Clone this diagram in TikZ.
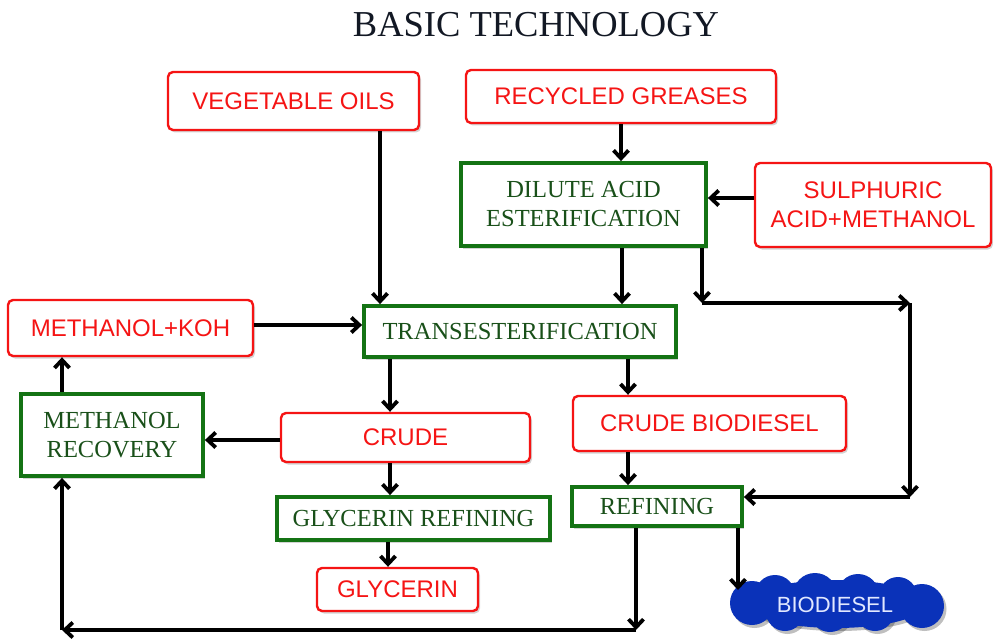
\documentclass[tikz,border=0pt]{standalone}
\usepackage{fontspec}
\setmainfont{Liberation Serif}
\newfontfamily\sansf{Liberation Sans}
\usetikzlibrary{arrows.meta,shadows}
\definecolor{redc}{RGB}{245,20,20}
\definecolor{greenb}{RGB}{20,115,20}
\definecolor{greent}{RGB}{25,80,25}
\definecolor{titlec}{RGB}{18,24,36}
\definecolor{cloudc}{RGB}{10,50,185}
\definecolor{cloudt}{RGB}{225,232,255}
\tikzset{
  redbox/.style={draw=redc, line width=2.4pt, rounded corners=5pt, fill=white, text=redc,
    font=\sansf\fontsize{24}{29}\selectfont, align=center, inner sep=0pt,
    drop shadow={shadow xshift=2pt, shadow yshift=-2.5pt, opacity=0.35}},
  greenbox/.style={draw=greenb, line width=3.8pt, fill=white, text=greent,
    font=\fontsize{24.5}{29}\selectfont, align=center, inner sep=0pt,
    drop shadow={shadow xshift=2pt, shadow yshift=-2.5pt, opacity=0.35}},
  arr/.style={-{Straight Barb[length=8pt,width=15pt]}, line width=3.8pt, black}
}
\newcommand{\cloudblob}[1]{%
  \fill[#1] (836,604) ellipse [x radius=90pt, y radius=24pt];
  \foreach \cx/\cy/\r in {775/595/20, 815/595/22, 858/595/21, 898/596/19,
                          785/612/19, 830/612/20, 875/612/19, 752/603/22, 922/606/22}
    \fill[#1] (\cx,\cy) circle [radius=\r pt];}
\begin{document}
\begin{tikzpicture}[x={(1pt,0pt)}, y={(0pt,-1pt)}]
\useasboundingbox (0,0) rectangle (993,639);
\node[text=titlec, font=\fontsize{36.5}{40}\selectfont] (title) at (536,25) {BASIC TECHNOLOGY};

\node[redbox, minimum width=251pt, minimum height=58pt] (veg) at (293.5,101) {VEGETABLE OILS};
\node[redbox, minimum width=310pt, minimum height=53pt] (recyc) at (621,96.5) {RECYCLED GREASES};
\node[greenbox, minimum width=245pt, minimum height=83pt] (dilute) at (583.5,204.5) {DILUTE ACID\\ESTERIFICATION};
\node[redbox, minimum width=236pt, minimum height=84pt] (sulph) at (873,205) {SULPHURIC\\ACID+METHANOL};
\node[redbox, minimum width=245pt, minimum height=56pt] (mkoh) at (130.5,328) {METHANOL+KOH};
\node[greenbox, minimum width=312pt, minimum height=51pt] (trans) at (520,331.5) {TRANSESTERIFICATION};
\node[greenbox, minimum width=182pt, minimum height=82pt] (mrec) at (112,435) {METHANOL\\RECOVERY};
\node[redbox, minimum width=249pt, minimum height=49pt] (crude) at (405.5,437.5) {CRUDE};
\node[redbox, minimum width=273pt, minimum height=55pt] (cbio) at (709.5,423.5) {CRUDE BIODIESEL};
\node[greenbox, minimum width=273pt, minimum height=43pt] (grefin) at (413.5,518.5) {GLYCERIN REFINING};
\node[greenbox, minimum width=170pt, minimum height=39pt] (refin) at (657,506.5) {REFINING};
\node[redbox, minimum width=161pt, minimum height=43pt] (glyc) at (397.5,589.5) {GLYCERIN};

% cloud (shadow, then body)
\begin{scope}[shift={(2.5,3)}, opacity=0.25]
  \cloudblob{black}
\end{scope}
\cloudblob{cloudc}
\node[text=cloudt, inner sep=0pt, font=\sansf\fontsize{22}{24}\selectfont] (bio) at (835,605) {BIODIESEL};

\coordinate (c1) at (702,303);
\coordinate (c2) at (910,303);
\coordinate (c3) at (910,497);
\coordinate (c4) at (636,630);
\coordinate (c5) at (62,630);
\coordinate (c6) at (738,590);

% connectors
\draw[arr] ([xshift=86.5pt]veg.south) -- ([xshift=86.5pt]veg.south |- trans.north);
\draw[arr] (recyc.south) -- (recyc.south |- dilute.north);
\draw[arr] ([yshift=7pt]sulph.west) -- ([yshift=7pt]sulph.west -| dilute.east);
\draw[arr] ([xshift=38.5pt]dilute.south) -- ([xshift=38.5pt]dilute.south |- trans.north);
\draw[arr] ([xshift=118.5pt]dilute.south) -- (c1);
\draw[arr] (c1) -- (c2);
\draw[arr] (c2) -- (c3);
\draw[arr] (c3) -- (c3 -| refin.east);
\draw[arr] ([yshift=3pt]mkoh.east) -- ([yshift=3pt]mkoh.east -| trans.west);
\draw[arr] ([xshift=-15.5pt]crude.north |- trans.south) -- ([xshift=-15.5pt]crude.north);
\draw[arr] ([xshift=-81.5pt]cbio.north |- trans.south) -- ([xshift=-81.5pt]cbio.north);
\draw[arr] ([yshift=-2.5pt]crude.west) -- ([yshift=-2.5pt]crude.west -| mrec.east);
\draw[arr] ([xshift=-50pt]mrec.north) -- ([xshift=-50pt]mrec.north |- mkoh.south);
\draw[arr] ([xshift=-15.5pt]crude.south) -- ([xshift=-15.5pt]crude.south |- grefin.north);
\draw[arr] ([xshift=-9.5pt]glyc.north |- grefin.south) -- ([xshift=-9.5pt]glyc.north);
\draw[arr] ([xshift=-29pt]refin.north |- cbio.south) -- ([xshift=-29pt]refin.north);
\draw[arr] ([xshift=-21pt]refin.south) -- (c4);
\draw[arr] (c4) -- (c5);
\draw[arr] (c5) -- (c5 |- mrec.south);
\draw[arr] ([xshift=81pt]refin.south) -- (c6);
\end{tikzpicture}
\end{document}
